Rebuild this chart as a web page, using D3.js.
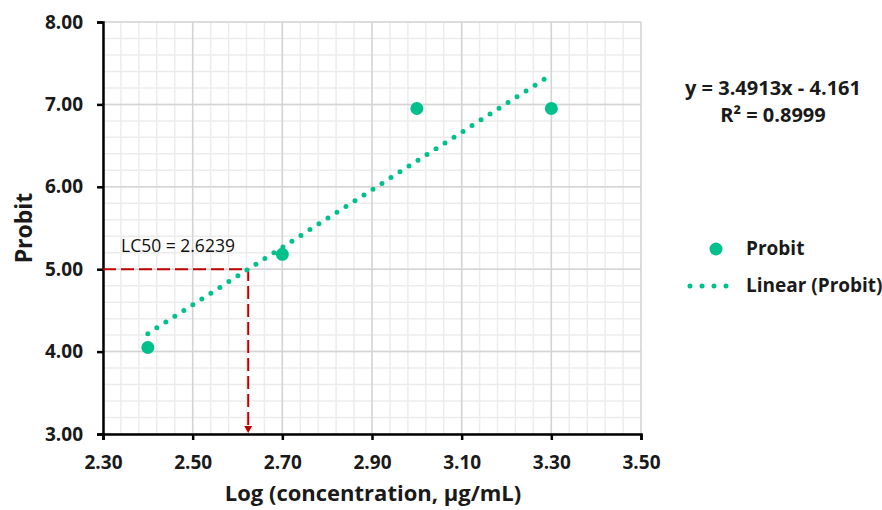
<!DOCTYPE html>
<meta charset="utf-8">
<head>
    <title>Probit vs Log concentration</title>
    <style>
        body { margin: 0; background: #fff; }
        text { font-family: "Open Sans", "Noto Sans", sans-serif; }
    </style>
</head>
<body>
    <script src="https://cdn.jsdelivr.net/npm/d3@7"></script>
    <svg id="chart"></svg>
    <script>
        // data
        var logConc = [2.40, 2.70, 3.00, 3.30];
        var probit = [4.05, 5.18, 6.95, 6.95];
        var xTicks = [2.30, 2.50, 2.70, 2.90, 3.10, 3.30, 3.50];
        var yTicks = [3.00, 4.00, 5.00, 6.00, 7.00, 8.00];
        var slope = 3.4913, intercept = -4.161, r2 = 0.8999;
        var lc50 = 2.6239;

        var W = 882, H = 510;
        var margin = { top: 22, right: 241, bottom: 76, left: 103 };
        var width = W - margin.left - margin.right;
        var height = H - margin.top - margin.bottom;

        var svg = d3.select("#chart").attr("width", W).attr("height", H);
        var g = svg.append("g").attr("transform", "translate(" + margin.left + "," + margin.top + ")");

        var x = d3.scaleLinear().domain([2.30, 3.50]).range([0, width]);
        var y = d3.scaleLinear().domain([3.00, 8.00]).range([height, 0]);

        // minor grid
        var grid = g.append("g");
        grid.selectAll(".vmin").data(d3.range(2.30, 3.5001, 0.04))
            .enter().append("line")
            .attr("x1", d => x(d)).attr("x2", d => x(d))
            .attr("y1", 0).attr("y2", height)
            .attr("stroke", "#ececec").attr("stroke-width", 1.5);
        grid.selectAll(".hmin").data(d3.range(3.0, 8.0001, 0.2))
            .enter().append("line")
            .attr("y1", d => y(d)).attr("y2", d => y(d))
            .attr("x1", 0).attr("x2", width)
            .attr("stroke", "#ececec").attr("stroke-width", 1.5);
        // major grid
        grid.selectAll(".vmaj").data(xTicks)
            .enter().append("line")
            .attr("x1", d => x(d)).attr("x2", d => x(d))
            .attr("y1", 0).attr("y2", height)
            .attr("stroke", "#d4d4d4").attr("stroke-width", 1.5);
        grid.selectAll(".hmaj").data(yTicks)
            .enter().append("line")
            .attr("y1", d => y(d)).attr("y2", d => y(d))
            .attr("x1", 0).attr("x2", width)
            .attr("stroke", "#d4d4d4").attr("stroke-width", 1.5);

        // axes
        var xAxis = g.append("g").attr("transform", "translate(0," + height + ")")
            .call(d3.axisBottom(x).tickValues(xTicks).tickFormat(d3.format(".2f")).tickSizeOuter(0).tickSize(6).tickPadding(16));
        var yAxis = g.append("g")
            .call(d3.axisLeft(y).tickValues(yTicks).tickFormat(d3.format(".2f")).tickSizeOuter(0).tickSize(6).tickPadding(14));
        [xAxis, yAxis].forEach(function(a) {
            a.select(".domain").attr("stroke", "#000").attr("stroke-width", 2.5);
            a.selectAll(".tick line").attr("stroke", "#000").attr("stroke-width", 2.5);
            a.selectAll(".tick text").attr("fill", "#1a1a1a")
                .style("font-size", "19px").style("font-weight", "bold");
        });

        // LC50 guide lines
        var red = "#c00000";
        g.append("path")
            .attr("d", "M" + x(2.30) + "," + y(5) + "H" + x(lc50) + "V" + (y(3) - 7))
            .attr("fill", "none").attr("stroke", red).attr("stroke-width", 2)
            .attr("stroke-dasharray", "13,5");
        g.append("path")
            .attr("d", "M" + (x(lc50) - 4) + "," + (y(3) - 8) + "L" + (x(lc50) + 4) + "," + (y(3) - 8) + "L" + x(lc50) + "," + (y(3) - 1) + "Z")
            .attr("fill", red);
        g.append("text").attr("x", 18).attr("y", y(5) - 17)
            .style("font-size", "17.5px").attr("fill", "#111").text("LC50 = " + lc50);

        // trend line (dotted)
        var teal = "#00c08b";
        var xs = d3.extent(logConc);
        g.append("line")
            .attr("x1", x(xs[0])).attr("y1", y(slope * xs[0] + intercept))
            .attr("x2", x(xs[1])).attr("y2", y(slope * xs[1] + intercept))
            .attr("stroke", teal).attr("stroke-width", 5)
            .attr("stroke-linecap", "round").attr("stroke-dasharray", "0,10.7");

        // points
        g.selectAll(".pt").data(logConc)
            .enter().append("circle")
            .attr("cx", d => x(d)).attr("cy", (d, i) => y(probit[i]))
            .attr("r", 6.5).attr("fill", teal);

        // axis titles
        svg.append("text")
            .attr("transform", "translate(32," + (margin.top + height / 2) + ") rotate(-90)")
            .attr("text-anchor", "middle")
            .style("font-size", "23px").style("font-weight", "bold").attr("fill", "#1a1a1a")
            .text("Probit");
        svg.append("text")
            .attr("x", 373).attr("y", 501)
            .attr("text-anchor", "middle")
            .style("font-size", "22px").style("font-weight", "bold").attr("fill", "#1a1a1a")
            .text("Log (concentration, μg/mL)");

        // equation
        var eq = svg.append("text").attr("text-anchor", "middle")
            .style("font-size", "20px").style("font-weight", "bold").attr("fill", "#1a1a1a");
        eq.append("tspan").attr("x", 773).attr("y", 95).text("y = " + slope + "x - " + Math.abs(intercept));
        eq.append("tspan").attr("x", 773).attr("y", 122).text("R² = " + r2);

        // legend
        var leg = svg.append("g");
        leg.append("circle").attr("cx", 716).attr("cy", 249).attr("r", 6.5).attr("fill", teal);
        leg.append("text").attr("x", 746).attr("y", 255)
            .style("font-size", "19px").style("font-weight", "bold").attr("fill", "#1a1a1a").text("Probit");
        leg.append("line").attr("x1", 690).attr("x2", 738).attr("y1", 286).attr("y2", 286)
            .attr("stroke", teal).attr("stroke-width", 5)
            .attr("stroke-linecap", "round").attr("stroke-dasharray", "0,12");
        leg.append("text").attr("x", 746).attr("y", 292)
            .style("font-size", "19px").style("font-weight", "bold").attr("fill", "#1a1a1a").text("Linear (Probit)");
    </script>
</body>
</html>
